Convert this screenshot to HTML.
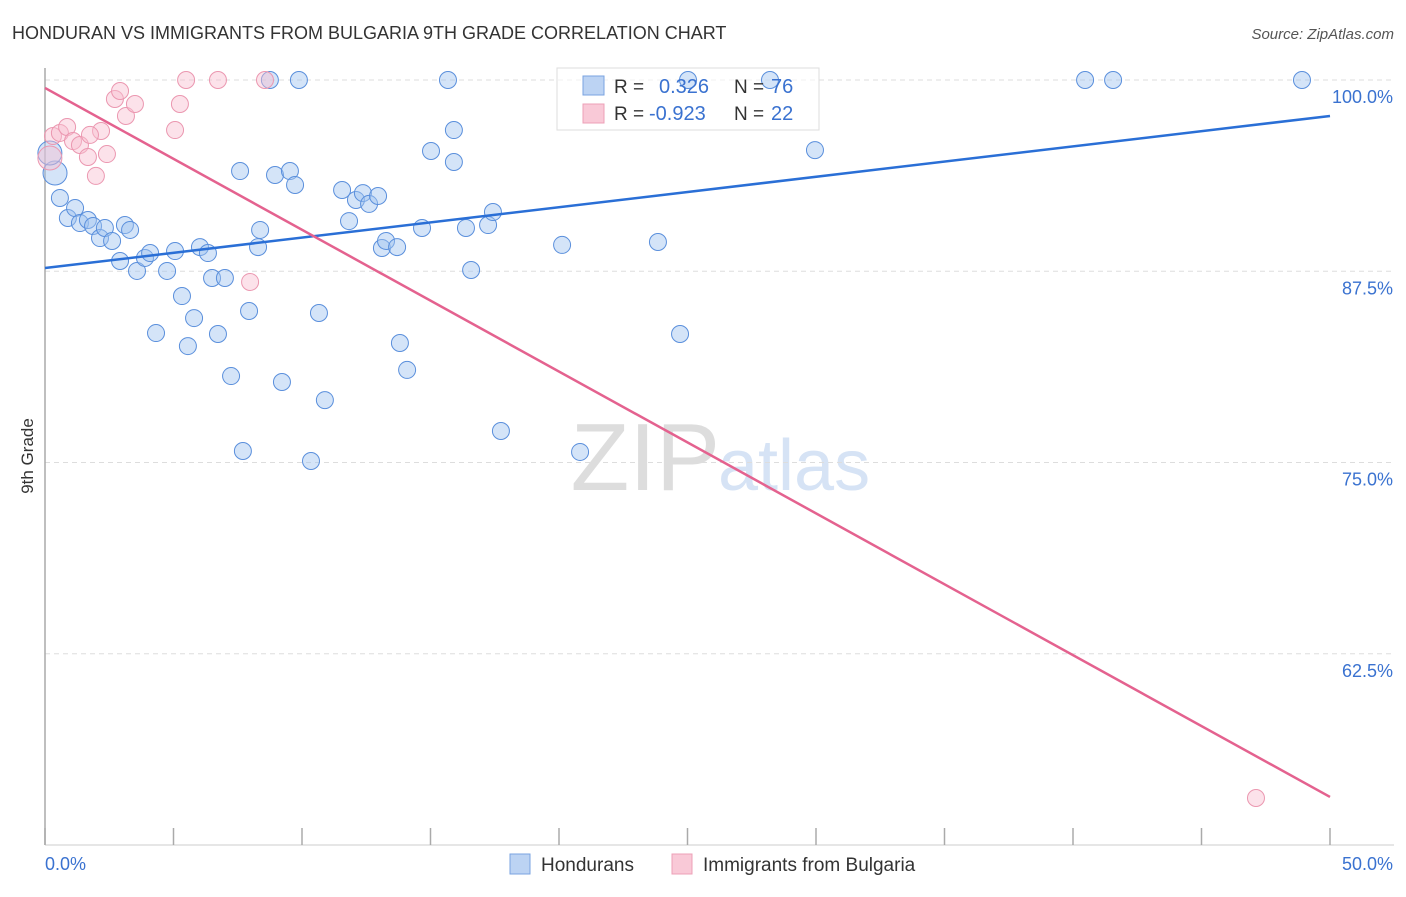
<!DOCTYPE html>
<html><head><meta charset="utf-8">
<style>
body{margin:0;background:#fff;font-family:"Liberation Sans",sans-serif;}
svg text{font-family:"Liberation Sans",sans-serif;}
</style></head>
<body>
<svg width="1406" height="892" viewBox="0 0 1406 892">
<text x="12" y="39" font-size="18" fill="#333">HONDURAN VS IMMIGRANTS FROM BULGARIA 9TH GRADE CORRELATION CHART</text>
<text x="1394" y="39" font-size="15" fill="#555" text-anchor="end" font-style="italic">Source: ZipAtlas.com</text>
<text x="720" y="490" font-size="96" fill="#ddd" text-anchor="end" font-family="Liberation Serif">ZIP</text>
<text x="718" y="490" font-size="72" fill="#d6e3f5">atlas</text>
<g id="grid"></g>
<g id="axes"></g>
<g>
<rect x="557" y="68" width="262" height="62" fill="#fff" fill-opacity="0.6" stroke="#ddd"/>
</g>
<g id="pts"></g>
<g id="lines"></g>
<text transform="translate(33,456) rotate(-90)" font-size="17" fill="#333" text-anchor="middle">9th Grade</text>
<g>
<rect x="583" y="76" width="21" height="19" fill="#bcd3f3" stroke="#7aa3e0"/>
<rect x="583" y="104" width="21" height="19" fill="#f9c9d7" stroke="#eda0b7"/>
<text x="614" y="93" font-size="19" fill="#333">R = </text><text x="659" y="93" font-size="20" fill="#3a72d0">0.326</text>
<text x="734" y="93" font-size="19" fill="#333">N = </text><text x="771" y="93" font-size="20" fill="#3a72d0">76</text>
<text x="614" y="120" font-size="19" fill="#333">R = </text><text x="649" y="120" font-size="20" fill="#3a72d0">-0.923</text>
<text x="734" y="120" font-size="19" fill="#333">N = </text><text x="771" y="120" font-size="20" fill="#3a72d0">22</text>
</g>
<g>
<rect x="510" y="854" width="20" height="20" fill="#bcd3f3" stroke="#7aa3e0"/>
<text x="541" y="871" font-size="19" fill="#333">Hondurans</text>
<rect x="672" y="854" width="20" height="20" fill="#f9c9d7" stroke="#eda0b7"/>
<text x="703" y="871" font-size="19" fill="#333">Immigrants from Bulgaria</text>
</g>
</svg>
<script>
const NS="http://www.w3.org/2000/svg";
const blueX=[0.39,0.19,0.58,0.89,1.17,1.36,1.67,1.87,2.14,2.33,2.61,2.92,3.11,3.31,3.58,3.89,4.09,4.32,4.75,5.06,5.33,5.56,5.80,6.03,6.34,6.50,6.73,7.00,7.24,7.59,7.70,7.94,8.29,8.37,8.75,8.95,9.22,9.53,9.73,9.88,10.35,10.66,10.89,11.56,11.83,12.10,12.37,12.61,12.96,13.11,13.27,13.70,13.81,14.09,14.67,15.02,15.68,15.91,15.91,16.38,16.58,17.24,17.43,17.74,20.12,20.82,23.85,24.71,25.02,28.21,29.96,40.47,41.56,48.91];
const blueY=[93.92,95.23,92.29,90.98,91.63,90.65,90.85,90.46,89.67,90.33,89.48,88.17,90.52,90.20,87.52,88.37,88.69,83.46,87.52,88.82,85.88,82.61,84.44,89.08,88.69,87.06,83.40,87.06,80.65,94.05,75.75,84.90,89.08,90.20,100,93.79,80.26,94.05,93.14,100,75.10,84.77,79.08,92.81,90.78,92.16,92.61,91.90,92.42,89.02,89.48,89.08,82.81,81.05,90.33,95.36,100,96.73,94.64,90.33,87.58,90.52,91.37,77.06,89.22,75.69,89.41,83.40,100,100,95.42,100,100,100];
const pinkX=[0.19,0.31,0.58,0.86,1.09,1.36,1.67,1.98,2.18,2.41,2.72,2.92,3.15,3.50,5.06,5.25,5.49,6.73,7.98,8.56,47.12,1.75];
const pinkY=[94.90,96.34,96.54,96.93,96.01,95.75,94.97,93.73,96.67,95.16,98.76,99.28,97.65,98.43,96.73,98.43,100,100,86.80,100,53.07,96.41];
const trendBlue=[87.71,97.65];
const trendPink=[99.48,53.14];
const xTicks=["0.0%","50.0%"];
const yTicks=[100,87.5,75,62.5];
const yTickLabels=["100.0%","87.5%","75.0%","62.5%"];
const X=v=>45+v*25.7, Y=v=>80+(100-v)*15.3;
function mk(tag,attrs,parent){const e=document.createElementNS(NS,tag);for(const k in attrs)e.setAttribute(k,attrs[k]);parent.appendChild(e);return e;}
const grid=document.getElementById('grid'),axes=document.getElementById('axes'),pts=document.getElementById('pts'),lines=document.getElementById('lines');
yTicks.forEach((t,i)=>{
 const l=mk('line',{x1:45,x2:1394,y1:Y(t),y2:Y(t),stroke:'#ddd','stroke-dasharray':'5,4'},grid);
 
 
 const tx=mk('text',{x:1393,y:Y(t)+23,'font-size':18,fill:'#3a72d0','text-anchor':'end'},axes);
 tx.textContent=yTickLabels[i];
 
 
});
const ya=mk('line',{x1:45,x2:45,y1:68,y2:845,stroke:'#aaa','stroke-width':1.5},axes);


const xa=mk('line',{x1:45,x2:1394,y1:845,y2:845,stroke:'#ccc'},axes);


for(let i=0;i<=10;i++){
 const t=mk('line',{x1:X(i*5),x2:X(i*5),y1:828,y2:845,stroke:'#aaa','stroke-width':1.5},axes);
 
 
}
[[0,45,'start'],[1,1393,'end']].forEach(([i,x,a])=>{
 const t=mk('text',{x:x,y:870,'font-size':18,fill:'#3a72d0','text-anchor':a},axes);
 t.textContent=xTicks[i];
 
 
});
blueX.forEach((v,i)=>{
 const big=i<2;
 const c=mk('circle',{cx:X(v),cy:Y(blueY[i]),r:big?12:8.5,fill:'rgba(160,195,240,0.45)',stroke:'#5a8fdc','stroke-width':1},pts);
 
 
});
pinkX.forEach((v,i)=>{
 const big=i==0;
 const c=mk('circle',{cx:X(v),cy:Y(pinkY[i]),r:big?12:8.5,fill:'rgba(248,190,208,0.45)',stroke:'#eb97b0','stroke-width':1},pts);
 
 
});
const lb=mk('line',{x1:X(0),y1:Y(trendBlue[0]),x2:X(50),y2:Y(trendBlue[1]),stroke:'#2a6fd6','stroke-width':2.5},lines);


const lp=mk('line',{x1:X(0),y1:Y(trendPink[0]),x2:X(50),y2:Y(trendPink[1]),stroke:'#e4628f','stroke-width':2.5},lines);


</script>
</body></html>
